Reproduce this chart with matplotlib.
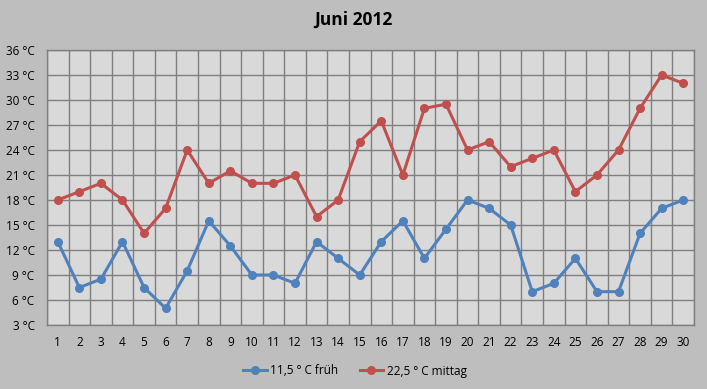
import matplotlib
matplotlib.use("Agg")
import matplotlib.pyplot as plt
from matplotlib.ticker import FixedLocator

days = list(range(1, 31))
frueh = [13, 7.5, 8.5, 13, 7.5, 5, 9.5, 15.5, 12.5, 9, 9, 8, 13, 11, 9,
         13, 15.5, 11, 14.5, 18, 17, 15, 7, 8, 11, 7, 7, 14, 17, 18]
mittag = [18, 19, 20, 18, 14, 17, 24, 20, 21.5, 20, 20, 21, 16, 18, 25,
          27.5, 21, 29, 29.5, 24, 25, 22, 23, 24, 19, 21, 24, 29, 33, 32]
y_ticks = [3, 6, 9, 12, 15, 18, 21, 24, 27, 30, 33, 36]
y_labels = [f"{v} °C" for v in y_ticks]
title = "Juni 2012"
labels = ["11,5 ° C früh", "22,5 ° C mittag"]

plt.rcParams['font.family'] = ['Open Sans', 'DejaVu Sans']

fig = plt.figure(figsize=(7.07, 3.89), dpi=100)
fig.patch.set_facecolor('#BEBEBE')
W, H = 707, 389
ax = fig.add_axes([47 / W, 1 - 325 / H, (694 - 47) / W, (325 - 50) / H])
ax.set_facecolor('#D9D9D9')

ax.plot(days, frueh, color='#4F81BD', lw=2.2, marker='o', ms=5.5, label=labels[0], zorder=3)
ax.plot(days, mittag, color='#C0504D', lw=2.2, marker='o', ms=5.5, label=labels[1], zorder=3)

ax.set_xlim(0.5, 30.5)
ax.set_ylim(3, 36)
ax.yaxis.set_major_locator(FixedLocator(y_ticks))
ax.set_yticklabels(y_labels)
ax.set_xticks(days)
ax.xaxis.set_minor_locator(FixedLocator([d + 0.5 for d in range(0, 31)]))
ax.grid(True, which='minor', axis='x', color='#7F7F7F', lw=1.0)
ax.grid(True, which='major', axis='y', color='#7F7F7F', lw=1.0)
ax.set_axisbelow(True)
ax.tick_params(axis='both', which='both', length=0, labelsize=8.5, colors='black')
ax.tick_params(axis='x', pad=8)
ax.tick_params(axis='y', pad=9)
for s in ax.spines.values():
    s.set_color('#7F7F7F')
    s.set_linewidth(1.0)

fig.text(0.5, 1 - 20 / H, title, ha='center', va='center', fontsize=12.5, fontweight='bold')

leg = fig.legend(loc='center', bbox_to_anchor=(355 / W, 1 - 371 / H), ncol=2, frameon=False,
                 fontsize=8.5, handlelength=2.0, columnspacing=1.8, handletextpad=0.3)

fig.savefig('out.png', dpi=100, facecolor=fig.get_facecolor())
